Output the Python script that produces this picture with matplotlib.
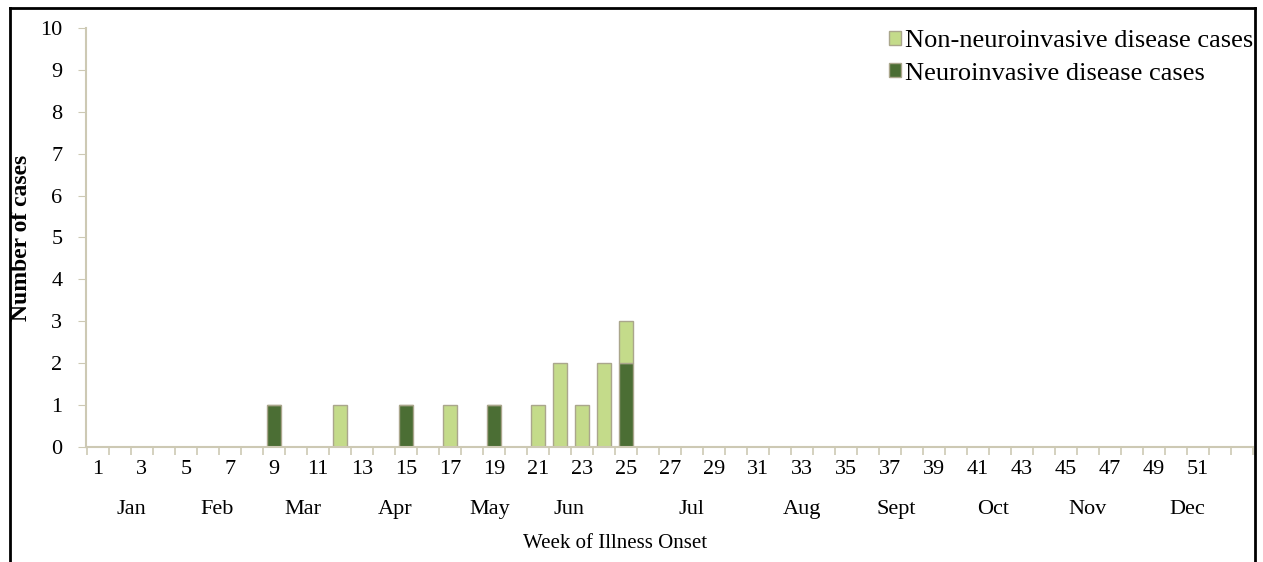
import matplotlib
matplotlib.use("Agg")
import matplotlib.pyplot as plt
from matplotlib.lines import Line2D
from matplotlib.transforms import blended_transform_factory
import numpy as np

plt.rcParams["font.family"] = ["Liberation Serif", "DejaVu Serif"]

# weeks of illness onset and counts per week
weeks = np.arange(1, 53)
neuro_weeks = [9, 15, 19, 25]
neuro_counts = [1, 1, 1, 2]
non_neuro_weeks = [12, 17, 21, 22, 23, 24, 25]
non_neuro_counts = [1, 1, 1, 2, 1, 2, 1]

month_labels = ["Jan", "Feb", "Mar", "Apr", "May", "Jun", "Jul", "Aug", "Sept", "Oct", "Nov", "Dec"]
month_pos = [2.5, 6.4, 10.3, 14.5, 18.8, 22.4, 28.0, 33.0, 37.3, 41.7, 46.0, 50.5]

neuro = np.zeros(len(weeks))
non_neuro = np.zeros(len(weeks))
for w, c in zip(neuro_weeks, neuro_counts):
    neuro[w - 1] = c
for w, c in zip(non_neuro_weeks, non_neuro_counts):
    non_neuro[w - 1] = c

light = "#c4db8a"
dark = "#4b6e34"
edge = "#aaa68c"
axis_col = "#cdc9b4"

fig = plt.figure(figsize=(12.63, 5.62), dpi=100)
ax = fig.add_axes([86 / 1263, 1 - 447 / 562, (1253 - 86) / 1263, 419 / 562])

ax.bar(weeks, neuro, width=0.62, color=dark, edgecolor=edge, linewidth=1,
       label="Neuroinvasive disease cases")
ax.bar(weeks, non_neuro, width=0.62, bottom=neuro, color=light, edgecolor=edge,
       linewidth=1, label="Non-neuroinvasive disease cases")

ax.set_xlim(0.46, 53.17)
ax.set_ylim(0, 10)
ax.set_yticks(range(0, 11))
ax.set_xticks(weeks[::2])
ax.set_xticklabels([str(w) for w in weeks[::2]])
ax.set_xticks(np.arange(0.5, 54, 1), minor=True)

for side in ["top", "right"]:
    ax.spines[side].set_visible(False)
for side in ["left", "bottom"]:
    ax.spines[side].set_color(axis_col)
    ax.spines[side].set_linewidth(1.5)

ax.tick_params(axis="y", length=6, color=axis_col, labelsize=16, pad=11)
ax.tick_params(axis="x", which="major", length=0, labelsize=16, pad=9)
ax.tick_params(axis="x", which="minor", length=6, color=axis_col, width=1.2)

trans = blended_transform_factory(ax.transData, ax.transAxes)
for lab, pos in zip(month_labels, month_pos):
    ax.text(pos, -0.148, lab, transform=trans, ha="center", va="center", fontsize=16)

ax.set_xlabel("Week of Illness Onset", fontsize=15, labelpad=40, x=0.453)
ax.set_ylabel("Number of cases", fontsize=17, fontweight="bold", labelpad=6)

handles, labels = ax.get_legend_handles_labels()
fig.legend(handles[::-1], labels[::-1], loc="upper left", bbox_to_anchor=(889 / 1263, 1 - 30 / 562),
           frameon=False, fontsize=19, handlelength=0.45, handleheight=0.45,
           handletextpad=0.15, labelspacing=0.4, borderaxespad=0, borderpad=0)

# outer frame
fig.add_artist(Line2D([10 / 1263, 10 / 1263], [0, 1 - 8 / 562], color="black", lw=2))
fig.add_artist(Line2D([10 / 1263, 1255 / 1263], [1 - 8 / 562, 1 - 8 / 562], color="black", lw=2))
fig.add_artist(Line2D([1255 / 1263, 1255 / 1263], [0, 1 - 8 / 562], color="black", lw=2))

fig.savefig("out.png", dpi=100)
